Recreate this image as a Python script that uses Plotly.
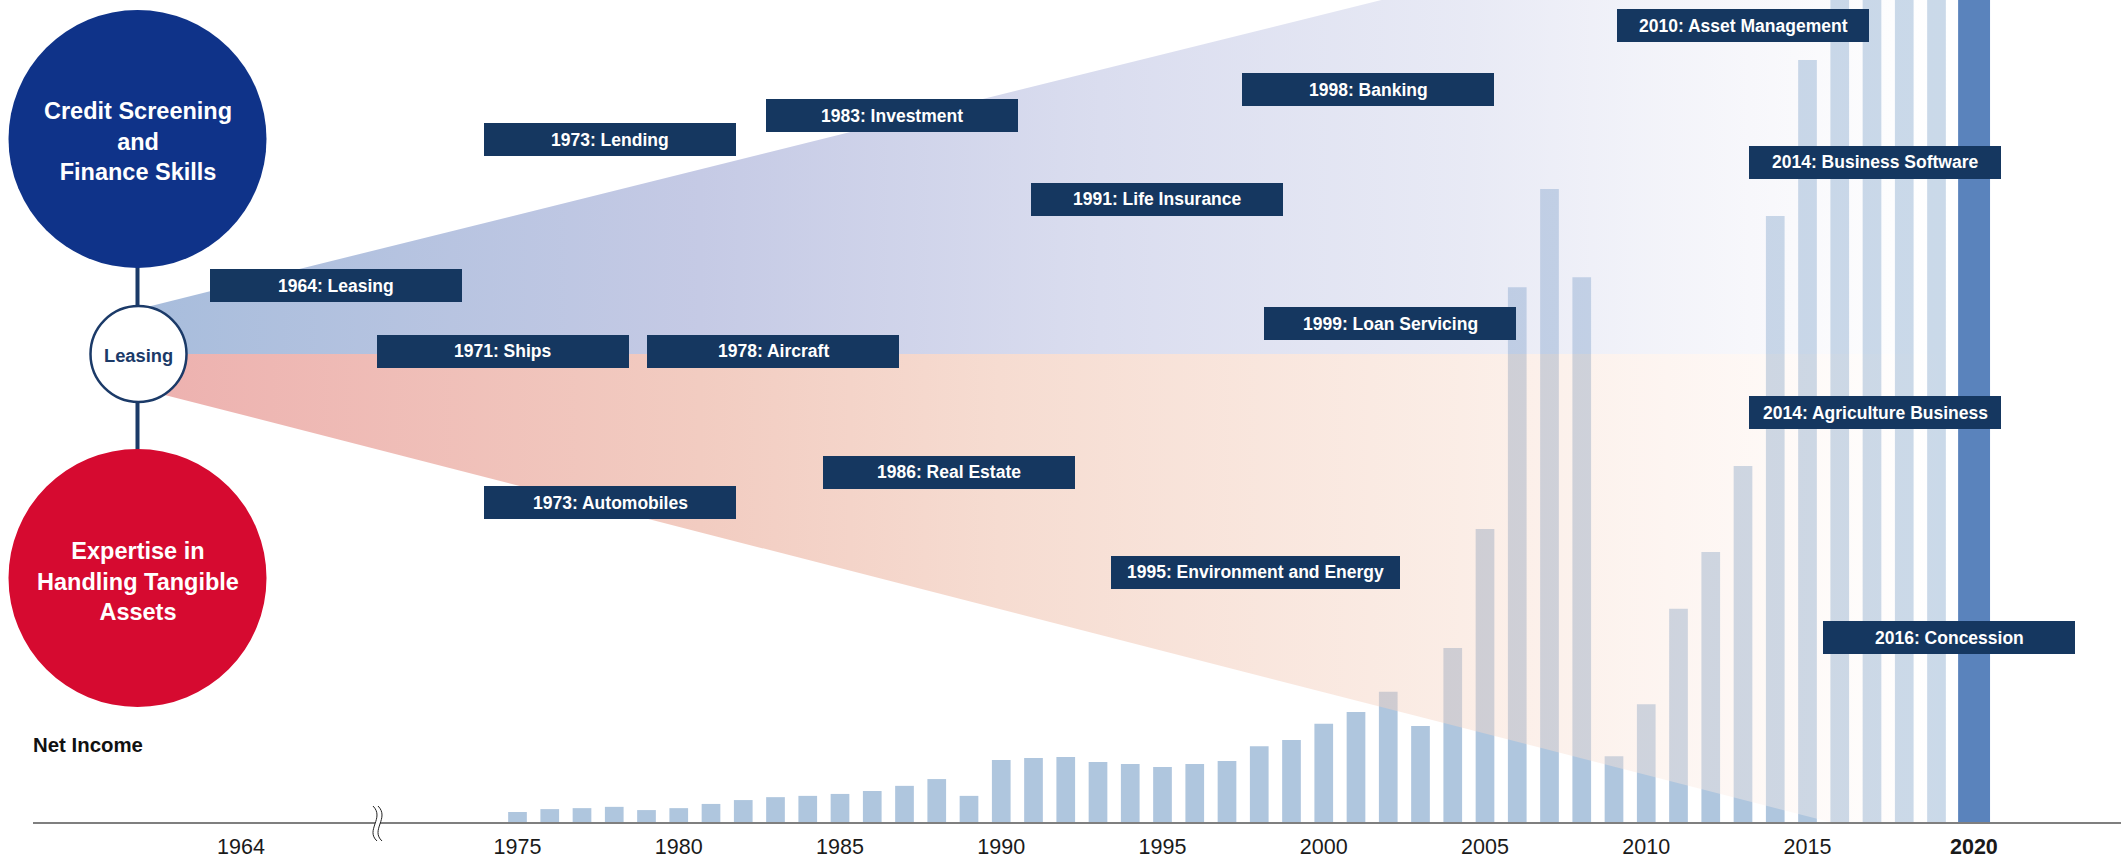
import plotly.graph_objects as go

# ---------------- data ----------------
years = list(range(1975, 2020))
# net income (billion yen)
net_income = [3.4, 4.3, 4.6, 5.0, 4.0, 4.6, 5.9, 7.1, 8.0, 8.4,
              9.0, 9.9, 11.5, 13.6, 8.4, 19.5, 20.1, 20.4, 18.9, 18.3,
              17.3, 18.3, 19.2, 23.8, 25.7, 30.7, 34.4, 40.6, 30.0, 54.2,
              91.0, 165.9, 196.3, 169.0, 20.7, 36.8, 66.3, 83.9, 110.5, 187.9,
              236.2, 260.2, 273.2, 313.1, 323.7]
highlight_year = [2020]
highlight_value = [302.7]

tick_years = [1964, 1975, 1980, 1985, 1990, 1995, 2000, 2005, 2010, 2015, 2020]
tick_text = ["1964", "1975", "1980", "1985", "1990", "1995", "2000", "2005", "2010", "2015", "<b>2020</b>"]

milestones = ["1964: Leasing", "1973: Lending", "1971: Ships", "1978: Aircraft",
              "1973: Automobiles", "1983: Investment", "1991: Life Insurance",
              "1998: Banking", "1999: Loan Servicing", "1986: Real Estate",
              "1995: Environment and Energy", "2010: Asset Management",
              "2014: Business Software", "2014: Agriculture Business",
              "2016: Concession"]

# ---------------- layout geometry (pixels) ----------------
W, H = 2121, 858
BASE = 823                       # baseline pixel row
PX_PER_YEAR = 32.25
X_1975 = 517.5
PX_PER_UNIT = 3.23
X0 = 1975 - X_1975 / PX_PER_YEAR
X1 = 1975 + (W - X_1975) / PX_PER_YEAR
YMAX = BASE / PX_PER_UNIT

box_pos = [(210, 269, 252), (484, 123, 252), (377, 335, 252), (647, 335, 252),
           (484, 486, 252), (766, 99, 252), (1031, 183, 252), (1242, 73, 252),
           (1264, 307, 252), (823, 456, 252), (1111, 556, 289), (1617, 9, 252),
           (1749, 146, 252), (1749, 396, 252), (1823, 621, 252)]
BOX_H = 33

FONT = "Liberation Sans, Arial, Helvetica, sans-serif"
NAVY = "#153760"
LINE_NAVY = "#1B3A68"


def px(x):
    return x / W


def py(y):
    return (BASE - y) / BASE


def tick_pos(y):
    if y == 1964:          # compressed position left of the axis break
        return X0 + 241 / PX_PER_YEAR
    if y == 2020:
        return 2020.16
    return y


fig = go.Figure()

# bars
fig.add_trace(go.Bar(x=years, y=net_income, width=0.58, marker_color="#AFC6DE",
                     marker_line_width=0, hoverinfo="skip"))
fig.add_trace(go.Bar(x=highlight_year, y=highlight_value, width=0.99, offset=-0.33,
                     marker_color="#5A83BC", marker_line_width=0, hoverinfo="skip"))

# wedges (overlay axes in pixel units)
SLOPE = 0.2565
XL, XR = 148, 1950
up_left = 311.5 - (167 - XL) * SLOPE
lo_left = 395.5 + (XL - 167) * SLOPE
x_top = 167 + 311.5 / SLOPE
x_bot = 167 + (BASE - 395.5) / SLOPE


def cscale(stops):
    out = []
    for x, (r, g, b), a in stops:
        out.append([(x - XL) / (XR - XL), f"rgba({r},{g},{b},{a})"])
    return out


blue_stops = [(XL, (81, 123, 185), 0.5), (700, (139, 149, 203), 0.5),
              (1100, (181, 187, 223), 0.5), (1470, (206, 210, 234), 0.47),
              (1750, (235, 235, 245), 0.4), (XR, (255, 255, 255), 0.34)]
pink_stops = [(XL, (219, 99, 95), 0.5), (700, (229, 153, 131), 0.5),
              (1000, (237, 185, 163), 0.5), (1460, (246, 215, 199), 0.45),
              (1750, (252, 237, 230), 0.4), (XR, (255, 255, 255), 0.34)]

fig.add_trace(go.Scatter(
    x=[XL, XL, x_top, XR, XR, XL], y=[354, up_left, 0, 0, 354, 354],
    mode="lines", line=dict(width=0), fill="toself",
    fillgradient=dict(type="horizontal", colorscale=cscale(blue_stops), start=XL, stop=XR),
    xaxis="x2", yaxis="y2", hoverinfo="skip"))
fig.add_trace(go.Scatter(
    x=[XL, XL, x_bot, XR, XR, XL], y=[354, lo_left, BASE, BASE, 354, 354],
    mode="lines", line=dict(width=0), fill="toself",
    fillgradient=dict(type="horizontal", colorscale=cscale(pink_stops), start=XL, stop=XR),
    xaxis="x2", yaxis="y2", hoverinfo="skip"))

shapes = []
# connector line
shapes.append(dict(type="line", xref="paper", yref="paper", x0=px(137.5), x1=px(137.5),
                   y0=py(265), y1=py(452), line=dict(color=LINE_NAVY, width=4)))
# circles
shapes.append(dict(type="circle", xref="paper", yref="paper", x0=px(8.5), x1=px(266.5),
                   y0=py(10), y1=py(268), fillcolor="#0F3389", line=dict(width=0)))
shapes.append(dict(type="circle", xref="paper", yref="paper", x0=px(8.5), x1=px(266.5),
                   y0=py(449), y1=py(707), fillcolor="#D60A30", line=dict(width=0)))
shapes.append(dict(type="circle", xref="paper", yref="paper", x0=px(90.5), x1=px(186.5),
                   y0=py(306), y1=py(402), fillcolor="white", line=dict(color=LINE_NAVY, width=2.5)))
# baseline
shapes.append(dict(type="line", xref="paper", yref="paper", x0=px(33), x1=1,
                   y0=0, y1=0, line=dict(color="#7F7F7F", width=2), layer="above"))


# axis break symbol
def pt(x, y):
    return f"{px(x):.6f},{py(y):.6f}"


c1 = [(373, 806), (385, 818), (365, 830), (377, 841)]
c2 = [(x + 5, y) for x, y in c1]
fill_path = (f"M{pt(*c1[0])} C{pt(*c1[1])} {pt(*c1[2])} {pt(*c1[3])} "
             f"L{pt(*c2[3])} C{pt(*c2[2])} {pt(*c2[1])} {pt(*c2[0])} Z")
shapes.append(dict(type="path", xref="paper", yref="paper", path=fill_path,
                   fillcolor="white", line=dict(width=0), layer="above"))
for c in (c1, c2):
    shapes.append(dict(type="path", xref="paper", yref="paper",
                       path=f"M{pt(*c[0])} C{pt(*c[1])} {pt(*c[2])} {pt(*c[3])}",
                       line=dict(color="#222222", width=1), layer="above"))

# milestone boxes
annotations = []
for label, (bx, by, bw) in zip(milestones, box_pos):
    shapes.append(dict(type="rect", xref="paper", yref="paper", x0=px(bx), x1=px(bx + bw),
                       y0=py(by), y1=py(by + BOX_H), fillcolor=NAVY, line=dict(width=0),
                       layer="above"))
    annotations.append(dict(text=f"<b>{label}</b>", xref="paper", yref="paper",
                            x=px(bx + bw / 2), y=py(by + BOX_H / 2), showarrow=False,
                            xanchor="center", yanchor="middle",
                            font=dict(family=FONT, size=17.5, color="white")))

annotations += [
    dict(text="<b>Credit Screening<br>and<br>Finance Skills</b>", xref="paper", yref="paper",
         x=px(137.5), y=py(141.5), showarrow=False, xanchor="center", yanchor="middle",
         font=dict(family=FONT, size=23.5, color="white")),
    dict(text="<b>Expertise in<br>Handling Tangible<br>Assets</b>", xref="paper", yref="paper",
         x=px(137.5), y=py(581), showarrow=False, xanchor="center", yanchor="middle",
         font=dict(family=FONT, size=23.5, color="white")),
    dict(text="<b>Leasing</b>", xref="paper", yref="paper", x=px(138.5), y=py(355),
         showarrow=False, xanchor="center", yanchor="middle",
         font=dict(family=FONT, size=18.3, color=LINE_NAVY)),
    dict(text="<b>Net Income</b>", xref="paper", yref="paper", x=px(31), y=py(745),
         showarrow=False, xanchor="left", yanchor="middle",
         font=dict(family=FONT, size=20.4, color="#111111")),
]

fig.update_layout(
    width=W, height=H, margin=dict(l=0, r=0, t=0, b=H - BASE, autoexpand=False),
    paper_bgcolor="white", plot_bgcolor="white", showlegend=False,
    barmode="overlay",
    xaxis=dict(range=[X0, X1], showgrid=False, zeroline=False, showline=False, ticks="",
               tickvals=[tick_pos(y) for y in tick_years], ticktext=tick_text,
               ticklabelstandoff=8, automargin=False,
               tickfont=dict(family=FONT, size=21.5, color="#1A1A1A"), fixedrange=True),
    yaxis=dict(range=[0, YMAX], visible=False, fixedrange=True, automargin=False),
    xaxis2=dict(range=[0, W], overlaying="x", anchor="y2", visible=False, fixedrange=True),
    yaxis2=dict(range=[BASE, 0], overlaying="y", anchor="x2", visible=False, fixedrange=True),
    shapes=shapes, annotations=annotations,
)

fig.write_html("out.html")
